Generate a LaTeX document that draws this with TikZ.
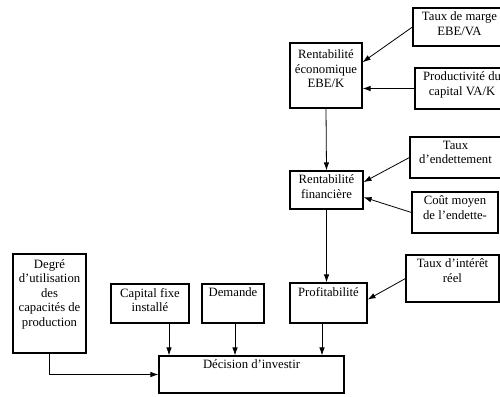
\documentclass[tikz,border=0pt]{standalone}
\usepackage{fontspec}
\setmainfont{Liberation Serif}
\usetikzlibrary{arrows.meta}
\tikzset{
    bloc/.style={draw, line width=1.1pt, inner sep=0pt},
    lbl/.style={anchor=north, align=center, inner sep=4.5pt,
        font=\fontsize{12.7pt}{14.4pt}\selectfont},
    fl/.style={-{Latex[length=8pt,width=5.5pt]}, line width=0.8pt}
}
\begin{document}
\begin{tikzpicture}[x=1pt,y=-1pt]
    \clip (0,0) rectangle (500,396);
    % boites
    \node[bloc, minimum width=93, minimum height=38, label={[lbl]north:Taux de marge\\EBE/VA}] (marge) at (459.5,27) {};
    \node[bloc, minimum width=72, minimum height=65, label={[lbl,yshift=-3pt]north:Rentabilit\'e\\\'economique\\EBE/K}] (eco) at (326,75.5) {};
    \node[bloc, minimum width=94, minimum height=41, label={[lbl]north:Productivit\'e du\\capital VA/K}] (prod) at (462,88.5) {};
    \node[bloc, minimum width=73, minimum height=38, label={[lbl]north:Rentabilit\'e\\financi\`ere}] (fin) at (326.5,190) {};
    \node[bloc, minimum width=91, minimum height=41, label={[lbl]north:Taux\\d’endettement}] (endet) at (455.5,157.5) {};
    \node[bloc, minimum width=86, minimum height=41, label={[lbl]north:Co\^ut moyen\\de l’endette-}] (cout) at (455,212.5) {};
    \node[bloc, minimum width=93, minimum height=47, label={[lbl]north:Taux d’int\'er\^et\\r\'eel}] (interet) at (452.5,278.5) {};
    \node[bloc, minimum width=77, minimum height=40, label={[lbl]north:Profitabilit\'e}] (prof) at (328.5,303) {};
    \node[bloc, minimum width=73, minimum height=99, label={[lbl,yshift=-1.5pt]north:Degr\'e\\d’utilisation\\des\\capacit\'es de\\production}] (degre) at (49.5,303.5) {};
    \node[bloc, minimum width=78, minimum height=39, label={[lbl]north:Capital fixe\\install\'e}] (capital) at (150,303.5) {};
    \node[bloc, minimum width=62, minimum height=39, label={[lbl]north:Demande}] (demande) at (233,303.5) {};
    \node[bloc, minimum width=185, minimum height=37, label={[lbl]north:D\'ecision d’investir}] (decision) at (251.5,374.5) {};
    % fleches
    \draw[fl] (marge.west) -- (eco.20);
    \draw[fl] (prod.west) -- (prod.west -| eco.east);
    \draw[fl] (eco.south) -- (fin.north);
    \draw[fl] (endet.west) -- (fin.12);
    \draw[fl] (cout.west) -- (fin.-11);
    \draw[fl] (fin.south) -- (fin.south |- prof.north);
    \draw[fl] (interet.west) -- (prof.5);
    \foreach \n/\d in {capital/19,demande/2,prof/-6.5}
        \draw[fl] ([xshift=\d]\n.south) -- ([xshift=\d]\n.south |- decision.north);
    \draw[fl] (degre.south) |- (decision.west);
\end{tikzpicture}
\end{document}
